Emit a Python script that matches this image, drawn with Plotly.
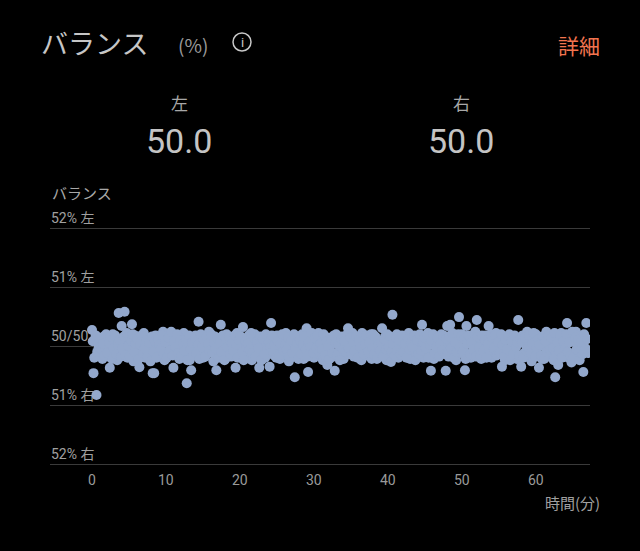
import plotly.graph_objects as go

# Balance samples: deviation from 50/50 in % (positive = left, negative = right).
# Series A sampled every 0.2 min starting at 0.0; series B every 0.2 min starting at 0.1.
SAMPLE_MIN = 0.2
balance_a = [
    0.27, -0.46, 0.12, -0.83, 0.05,
    -0.15, 0.08, -0.22, 0.16, -0.04,
    0.10, -0.18, -0.37, 0.02, 0.20,
    -0.08, 0.14, -0.24, 0.56, 0.04,
    0.34, -0.12, 0.58, 0.08, -0.20,
    0.12, -0.06, 0.37, -0.26, 0.18,
    -0.14, 0.06, -0.36, 0.16, -0.02,
    0.22, -0.20, 0.04, -0.10, 0.14,
    -0.06, -0.46, -0.46, 0.18, 0.00,
    -0.18, 0.12, -0.08, 0.24, -0.24,
    0.06, -0.14, 0.20, -0.04, 0.10,
    -0.37, 0.16, -0.10, 0.02, -0.22,
    0.14, -0.06, 0.22, -0.18, -0.63,
    0.08, -0.24, -0.41, 0.12, -0.02,
    0.18, -0.16, 0.41, -0.08, 0.06,
    -0.20, 0.14, 0.00, -0.12, 0.24,
    -0.06, 0.10, -0.26, 0.16, -0.41,
    0.04, -0.14, 0.36, -0.02, 0.12,
    -0.22, 0.20, -0.08, 0.06, -0.18,
    0.14, -0.04, -0.37, 0.22, -0.12,
    0.02, -0.20, 0.32, -0.06, 0.10,
    -0.16, 0.18, -0.02, -0.24, 0.08,
    0.20, -0.10, 0.04, -0.37, 0.14,
    -0.06, 0.16, -0.20, 0.02, -0.12,
    -0.35, 0.39, 0.10, -0.16, 0.06,
    0.18, -0.08, -0.22, 0.12, -0.02,
    -0.14, 0.22, 0.04, -0.26, 0.14,
    0.06, -0.18, -0.53, 0.10, -0.08,
    0.16, -0.04, 0.20, -0.22, 0.02,
    0.30, -0.44, 0.12, -0.10, 0.18,
    -0.20, 0.06, -0.06, 0.22, -0.14,
    0.10, -0.24, 0.16, -0.02, -0.32,
    0.14, -0.08, 0.04, -0.18, -0.42,
    0.20, -0.12, 0.08, -0.04, 0.16,
    -0.22, 0.12, -0.06, 0.30, -0.14,
    0.04, 0.22, -0.18, 0.10, -0.02,
    -0.10, 0.16, -0.24, 0.06, 0.18,
    -0.16, 0.02, 0.14, -0.08, -0.22,
    0.20, -0.04, 0.10, -0.18, 0.06,
    -0.12, 0.30, -0.02, 0.16, -0.24,
    0.08, -0.14, -0.27, 0.53, 0.12,
    -0.06, 0.20, -0.20, 0.04, -0.10,
    0.16, -0.16, 0.08, -0.02, 0.22,
    -0.22, 0.10, -0.08, 0.18, -0.14,
    0.04, -0.04, 0.14, 0.36, -0.20,
    0.12, -0.10, 0.22, -0.16, -0.42,
    0.06, -0.22, 0.16, -0.06, 0.10,
    -0.14, 0.20, -0.02, 0.08, -0.42,
    0.34, -0.18, 0.36, 0.02, -0.08,
    0.14, -0.24, 0.06, 0.49, -0.12,
    0.20, -0.06, -0.41, 0.34, -0.16,
    0.10, -0.20, 0.16, -0.02, 0.24,
    0.44, -0.12, 0.06, -0.22, 0.12,
    -0.04, 0.18, -0.16, 0.34, 0.02,
    -0.20, 0.10, -0.08, 0.22, -0.14,
    0.06, -0.04, -0.35, 0.16, -0.24,
    0.12, -0.10, 0.20, -0.18, 0.04,
    -0.06, 0.14, -0.22, 0.44, 0.08,
    -0.35, 0.18, -0.12, 0.02, 0.24,
    -0.16, 0.06, -0.26, 0.12, -0.04,
    0.20, -0.14, -0.37, 0.08, -0.22,
    0.14, -0.02, 0.24, -0.18, 0.06,
    -0.10, 0.18, -0.24, -0.53, 0.10,
    -0.32, 0.04, 0.22, -0.16, 0.12,
    -0.06, 0.39, -0.20, 0.14, -0.28,
    0.08, -0.12, 0.24, -0.02, -0.22,
    0.16, -0.08, -0.44, 0.10, 0.39,
    -0.12,
]
balance_b = [
    0.08, -0.20, 0.18, -0.10, -0.02,
    0.14, -0.06, 0.04, -0.16, 0.20,
    -0.12, 0.06, 0.16, -0.22, -0.04,
    0.18, -0.14, 0.02, 0.10, -0.18,
    -0.04, 0.16, -0.16, 0.22, 0.00,
    -0.18, 0.08, 0.20, -0.10, 0.04,
    0.12, -0.22, 0.02, 0.18, -0.12,
    -0.04, 0.10, -0.18, 0.06, -0.26,
    0.16, -0.10, 0.08, -0.20, 0.12,
    0.02, -0.04, 0.18, -0.14, 0.06,
    -0.20, 0.14, -0.08, 0.24, -0.16,
    0.08, -0.02, 0.20, -0.12, 0.10,
    -0.16, 0.04, -0.08, 0.12, -0.24,
    0.18, -0.06, 0.06, -0.16, 0.14,
    -0.12, 0.02, -0.22, 0.20, -0.02,
    0.10, -0.18, 0.16, 0.04, -0.08,
    0.20, -0.12, 0.06, -0.04, 0.14,
    -0.20, 0.08, -0.10, 0.18, -0.24,
    0.12, -0.02, 0.16, -0.14, 0.04,
    -0.08, 0.18, 0.02, -0.20, 0.10,
    0.16, -0.10, -0.24, 0.08, -0.02,
    0.04, -0.06, 0.22, -0.12, 0.14,
    -0.18, 0.08, -0.04, 0.16, -0.24,
    0.12, -0.14, 0.20, -0.06, 0.06,
    -0.02, 0.18, -0.10, 0.02, -0.20,
    0.08, -0.16, 0.04, 0.20, -0.08,
    0.02, -0.06, 0.14, -0.18, 0.10,
    -0.12, 0.20, -0.04, 0.06, -0.22,
    0.10, -0.14, 0.02, 0.16, -0.06,
    -0.18, 0.06, -0.02, 0.22, -0.12,
    0.14, -0.04, 0.18, -0.10, 0.04,
    -0.06, 0.20, -0.16, 0.08, 0.00,
    -0.22, 0.10, -0.12, 0.18, 0.06,
    -0.16, 0.02, -0.24, 0.12, -0.06,
    0.08, -0.10, 0.20, -0.04, 0.14,
    -0.14, 0.06, -0.08, 0.16, -0.20,
    0.10, -0.02, 0.22, -0.14, 0.02,
    0.18, -0.10, 0.06, 0.20, -0.04,
    -0.14, 0.16, -0.22, 0.02, -0.08,
    0.06, -0.18, 0.12, -0.06, 0.20,
    -0.02, 0.16, -0.10, 0.04, -0.16,
    0.14, -0.08, 0.10, -0.14, 0.18,
    -0.10, 0.04, -0.20, 0.12, -0.06,
    0.06, -0.02, 0.16, -0.24, 0.10,
    -0.14, 0.20, -0.08, 0.06, 0.14,
    -0.04, 0.18, -0.20, 0.02, 0.08,
    0.20, -0.12, -0.02, 0.14, -0.18,
    0.04, -0.08, 0.18, -0.14, 0.12,
    -0.12, 0.16, -0.04, 0.22, -0.20,
    0.06, -0.10, 0.20, -0.02, 0.16,
    -0.10, 0.12, -0.22, 0.04, 0.18,
    -0.14, 0.06, -0.06, 0.20, -0.18,
    0.16, -0.02, -0.16, 0.18, -0.08,
    0.10, -0.20, 0.04, -0.06, 0.20,
    0.14, -0.04, 0.18, -0.16, 0.06,
    -0.12, 0.20, 0.02, -0.18, 0.10,
    -0.06, 0.16, -0.24, 0.08, -0.14,
    0.18, -0.02, 0.06, -0.16, 0.12,
    0.06, -0.20, 0.14, -0.08, -0.02,
    0.18, -0.12, 0.04, 0.22, -0.18,
    -0.04, 0.12, 0.02, -0.16, 0.16,
    -0.22, 0.08, -0.10, 0.18, -0.06,
    0.14, -0.04, 0.22, -0.12, 0.06,
    -0.08, 0.18, -0.20, 0.08, -0.04,
    0.20, -0.10, 0.06, -0.16, 0.24,
    -0.18, 0.14, -0.06, 0.10, -0.24,
    0.06, -0.14, 0.20, -0.04, 0.12,
]
minutes_a = [round(i * SAMPLE_MIN, 2) for i in range(len(balance_a))]
minutes_b = [round(0.1 + i * SAMPLE_MIN, 2) for i in range(len(balance_b))]

y_tickvals = [-2, -1, 0, 1, 2]
y_ticktext = ["52% 右", "51% 右", "50/50", "51% 左", "52% 左"]
x_tickvals = [0, 10, 20, 30, 40, 50, 60]
x_ticktext = ["0", "10", "20", "30", "40", "50", "60"]

left_value = "50.0"
right_value = "50.0"

FONT = "Roboto, 'Noto Sans CJK JP', sans-serif"
JP = "'Noto Sans CJK JP', Roboto, sans-serif"
POINT = "#93A8CC"

fig = go.Figure()
fig.add_trace(go.Scatter(
    x=minutes_a + minutes_b, y=balance_a + balance_b, mode="markers",
    marker=dict(size=10, color=POINT, line=dict(width=0)),
    hoverinfo="skip", showlegend=False,
))

# plot area: px x 50..590, y 200..472
PLOT_TOP, PLOT_BOTTOM = 200, 472
def px_x(px):
    return (px - 50) / 540.0

def px_y(py):
    return (PLOT_BOTTOM - py) / float(PLOT_BOTTOM - PLOT_TOP)

ann = []
ann.append(dict(text="バランス", x=px_x(39), y=px_y(42), xanchor="left", yanchor="middle",
                font=dict(family=JP, size=27, color="#C6C6C6")))
ann.append(dict(text="(%)", x=px_x(176), y=px_y(44), xanchor="left", yanchor="middle",
                font=dict(family=JP, size=19, color="#9A9A9A")))
ann.append(dict(text="i", x=px_x(242), y=px_y(42), xanchor="center", yanchor="middle",
                font=dict(family=FONT, size=13, color="#C8C8C8")))
ann.append(dict(text="詳細", x=px_x(602), y=px_y(45), xanchor="right", yanchor="middle",
                font=dict(family=JP, size=21, color="#F2744F")))
ann.append(dict(text="左", x=px_x(179), y=px_y(103), xanchor="center", yanchor="middle",
                font=dict(family=JP, size=17, color="#A8A8A8")))
ann.append(dict(text="右", x=px_x(461), y=px_y(103), xanchor="center", yanchor="middle",
                font=dict(family=JP, size=17, color="#A8A8A8")))
ann.append(dict(text=left_value, x=px_x(179), y=px_y(141), xanchor="center", yanchor="middle",
                font=dict(family=FONT, size=34, color="#C4C4C4")))
ann.append(dict(text=right_value, x=px_x(461), y=px_y(141), xanchor="center", yanchor="middle",
                font=dict(family=FONT, size=34, color="#C4C4C4")))
ann.append(dict(text="バランス", x=px_x(50), y=px_y(192), xanchor="left", yanchor="middle",
                font=dict(family=JP, size=15, color="#A8A8A8")))
ann.append(dict(text="時間(分)", x=px_x(602), y=px_y(502), xanchor="right", yanchor="middle",
                font=dict(family=JP, size=15, color="#A0A0A0")))
for a in ann:
    a.update(xref="paper", yref="paper", showarrow=False)

# x tick labels as annotations positioned by the x axis (data coordinates)
for tv, tt in zip(x_tickvals, x_ticktext):
    ann.append(dict(text=tt, x=tv, xref="x", y=px_y(480), yref="paper",
                    xanchor="center", yanchor="middle", showarrow=False,
                    font=dict(family=FONT, size=14, color="#9A9A9A")))

fig.update_layout(
    width=640, height=551,
    paper_bgcolor="#000000", plot_bgcolor="#000000",
    margin=dict(l=50, r=50, t=PLOT_TOP, b=551 - PLOT_BOTTOM),
    annotations=ann,
    showlegend=False,
    hovermode=False,
    font=dict(family=FONT, color="#9A9A9A"),
    shapes=[dict(type="circle", xref="paper", yref="paper",
                 x0=px_x(233), x1=px_x(251), y0=px_y(51), y1=px_y(33),
                 line=dict(color="#C8C8C8", width=1.5))],
)
fig.update_xaxes(
    range=[-5.68, 67.3], showgrid=False, zeroline=False, showline=False,
    showticklabels=False, ticks="",
    fixedrange=True,
)
fig.update_yaxes(
    range=[-2 - 8 / 59.0, 2 + 28 / 59.0], showgrid=True, gridcolor="#3A3A3A", gridwidth=1,
    zeroline=False, showline=False,
    tickvals=y_tickvals, ticktext=y_ticktext, ticks="",
    ticklabelposition="inside", ticklabelshift=-10, ticklabelstandoff=-2,
    layer="below traces",
    tickfont=dict(family=FONT, size=14, color="#A0A0A0"),
    fixedrange=True,
)

fig.write_html("out.html", config={"displayModeBar": False},
               post_script="document.body.style.margin='0';")
